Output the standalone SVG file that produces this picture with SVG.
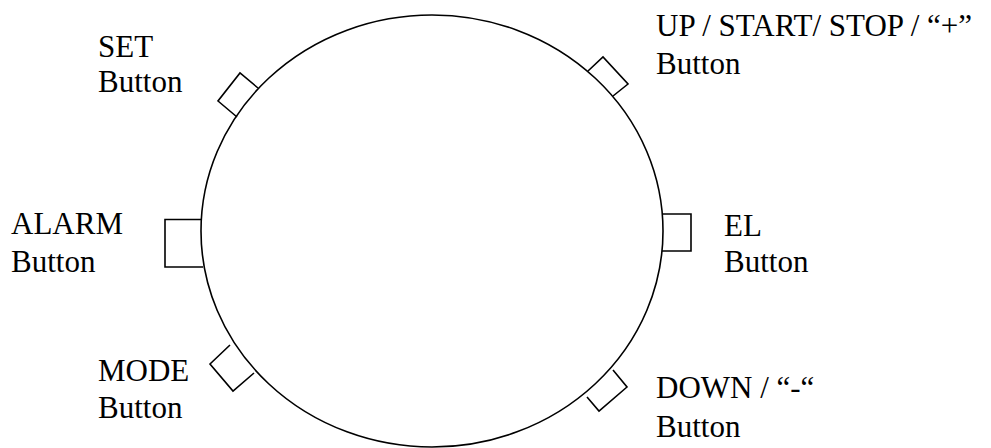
<svg xmlns="http://www.w3.org/2000/svg" width="991" height="448" viewBox="0 0 991 448">
<style>
.ln{fill:none;stroke:#000;stroke-width:1.6}
.t{font-family:"Liberation Serif","Times New Roman",serif;font-size:31px;fill:#000}
</style>
<rect width="991" height="448" fill="#fff"/>
<g id="body"><ellipse class="ln" cx="432" cy="231" rx="231" ry="216"/></g>
<g id="set-button">
<polyline class="ln" points="258,88 240,73 218,101 237,117"/>
<text class="t" x="98" y="57">SET</text><text class="t" x="98" y="92">Button</text>
</g>
<g id="up-button">
<polyline class="ln" points="588,71 603,57 628,84 613,96"/>
<text class="t" x="656" y="36">UP / START/ STOP / “+”</text><text class="t" x="656" y="74">Button</text>
</g>
<g id="alarm-button">
<polyline class="ln" points="202,219.5 165,219.5 165,267 203,267"/>
<text class="t" x="11" y="234">ALARM</text><text class="t" x="11" y="272">Button</text>
</g>
<g id="el-button">
<polyline class="ln" points="663,214 691,214 691,251 662,251"/>
<text class="t" x="724" y="236">EL</text><text class="t" x="724" y="272">Button</text>
</g>
<g id="mode-button">
<polyline class="ln" points="230,345 210,364 233,391 254,373"/>
<text class="t" x="98" y="381">MODE</text><text class="t" x="98" y="418">Button</text>
</g>
<g id="down-button">
<polyline class="ln" points="613,370 627,387 599,411 587,397"/>
<text class="t" x="656" y="398">DOWN / “-“</text><text class="t" x="656" y="437">Button</text>
</g>
<g id="connectors"></g>
</svg>
